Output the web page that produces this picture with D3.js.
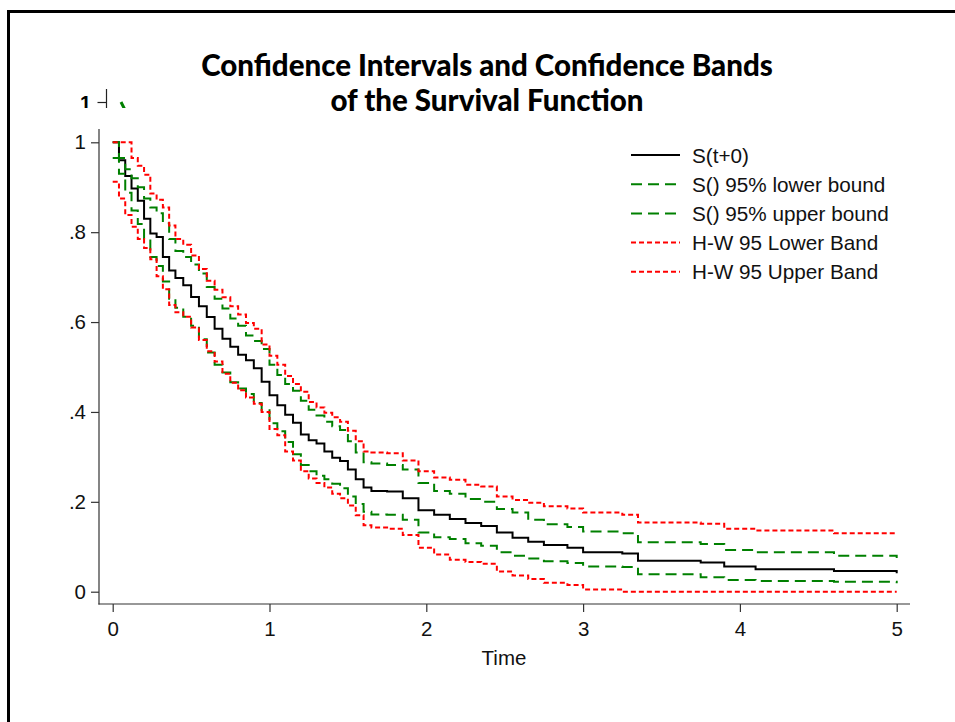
<!DOCTYPE html>
<html lang="en">
<head>
    <meta charset="utf-8">
    <title>Survival CI and bands</title>
    <script type="text/javascript" src="https://cdn.jsdelivr.net/npm/d3@7/dist/d3.min.js"></script>
    <style>
        body { margin: 0; background: #fff; }
        text { font-family: "Liberation Sans", Arial, sans-serif; }
        .title { font-family: Lato, "Open Sans", sans-serif; font-weight: 900; }
    </style>
</head>
<body>
<svg id="chart" width="955" height="722"></svg>

<script type="text/javascript">
    var time = [0,0.04,0.08,0.12,0.16,0.2,0.24,0.28,0.32,0.36,0.4,
        0.45,0.5,0.55,0.6,0.65,0.7,0.75,0.8,0.85,0.9,0.95,1.0,1.05,1.1,1.15,1.2,1.25,1.3,1.35,1.4,1.45,1.5,1.55,1.6,1.65,
        1.75,1.85,1.95,2.05,2.15,2.25,2.35,2.45,2.55,2.65,2.75,
        2.9,3.0,3.25,3.35,3.75,3.9,4.1,4.6,5.0];

    var survival = [1.0,0.96,0.925,0.897,0.87,0.83,0.797,0.789,0.745,0.715,0.698,
        0.682,0.656,0.635,0.611,0.585,0.563,0.545,0.527,0.515,0.497,0.467,0.437,0.415,0.394,0.376,0.35,0.337,0.330,0.312,0.298,0.291,0.272,0.25,0.232,0.224,
        0.223,0.208,0.181,0.171,0.162,0.153,0.146,0.132,0.120,0.111,0.104,
        0.098,0.088,0.085,0.069,0.065,0.056,0.050,0.046,0.041];

    var ciLower = [0.965,0.93,0.888,0.848,0.818,0.785,0.745,0.725,0.69,0.652,0.632,
        0.612,0.592,0.562,0.532,0.505,0.488,0.466,0.452,0.440,0.42,0.404,0.375,0.357,0.333,0.306,0.282,0.268,0.258,0.250,0.240,0.230,0.212,0.195,0.178,0.172,
        0.171,0.160,0.132,0.121,0.117,0.108,0.102,0.088,0.080,0.074,0.068,
        0.064,0.056,0.055,0.039,0.032,0.026,0.024,0.022,0.019];

    var ciUpper = [1.0,0.965,0.94,0.92,0.90,0.875,0.855,0.842,0.82,0.785,0.758,
        0.745,0.728,0.708,0.678,0.652,0.630,0.608,0.592,0.570,0.558,0.540,0.505,0.482,0.462,0.447,0.425,0.405,0.392,0.378,0.368,0.360,0.335,0.31,0.288,0.285,
        0.282,0.272,0.242,0.224,0.218,0.206,0.200,0.184,0.176,0.160,0.150,
        0.144,0.134,0.130,0.110,0.106,0.093,0.088,0.080,0.075];

    var bandLower = [0.912,0.875,0.838,0.812,0.785,0.765,0.740,0.702,0.673,0.638,0.622,
        0.612,0.588,0.560,0.535,0.512,0.485,0.465,0.448,0.432,0.418,0.400,0.362,0.348,0.312,0.292,0.268,0.252,0.242,0.232,0.218,0.208,0.192,0.170,0.148,0.143,
        0.140,0.126,0.098,0.083,0.071,0.066,0.062,0.045,0.036,0.028,0.020,
        0.015,0.005,0.0,0.0,0.0,0.0,0.0,0.0,0.0];

    var bandUpper = [1.0,1.0,1.0,0.965,0.948,0.928,0.886,0.872,0.855,0.815,0.785,
        0.772,0.748,0.718,0.692,0.672,0.655,0.635,0.617,0.598,0.585,0.550,0.525,0.505,0.480,0.462,0.445,0.422,0.410,0.398,0.388,0.378,0.358,0.335,0.312,0.310,
        0.308,0.292,0.268,0.254,0.249,0.238,0.234,0.212,0.204,0.198,0.190,
        0.185,0.176,0.171,0.154,0.151,0.140,0.136,0.130,0.128];

    var xTicks = [0, 1, 2, 3, 4, 5];
    var xTickLabels = ["0", "1", "2", "3", "4", "5"];
    var yTicks = [0, 0.2, 0.4, 0.6, 0.8, 1];
    var yTickLabels = ["0", ".2", ".4", ".6", ".8", "1"];
    var legendLabels = ["S(t+0)", "S() 95% lower bound", "S() 95% upper bound", "H-W 95 Lower Band", "H-W 95 Upper Band"];
    var titleLines = ["Confidence Intervals and Confidence Bands", "of the Survival Function"];

    // series styles, same order as the legend
    var styles = [
        {color: "#000000", dash: null},
        {color: "#008000", dash: "11,6"},
        {color: "#008000", dash: "11,6"},
        {color: "#ff0000", dash: "5,3"},
        {color: "#ff0000", dash: "5,3"}
    ];
    var seriesValues = [survival, ciLower, ciUpper, bandLower, bandUpper];

    var svg = d3.select("#chart");

    // outer frame (only left and top edges show)
    svg.append("rect")
        .attr("x", 8.5).attr("y", 11.5)
        .attr("width", 1000).attr("height", 1000)
        .attr("fill", "none").attr("stroke", "#000").attr("stroke-width", 3);

    var x = d3.scaleLinear().domain([0, 5]).range([112.7, 896.7]);
    var y = d3.scaleLinear().domain([0, 1]).range([591.7, 142.3]);

    // stray bit of an older copy of the axis peeking out under the title
    svg.append("clipPath").attr("id", "peek")
        .append("rect").attr("x", 70).attr("y", 85).attr("width", 70).attr("height", 23);
    var peek = svg.append("g").attr("clip-path", "url(#peek)");
    peek.append("text").attr("x", 91).attr("y", 110).attr("text-anchor", "end")
        .attr("font-size", 20).attr("font-weight", "bold").text("1");
    peek.append("line").attr("x1", 97.5).attr("x2", 106.5).attr("y1", 102.5).attr("y2", 102.5)
        .attr("stroke", "#222").attr("stroke-width", 1.2);
    peek.append("line").attr("x1", 106.5).attr("x2", 106.5).attr("y1", 89).attr("y2", 130)
        .attr("stroke", "#222").attr("stroke-width", 1.2);
    peek.append("line").attr("x1", 121).attr("x2", 125).attr("y1", 102).attr("y2", 110)
        .attr("stroke", "#008000").attr("stroke-width", 3);

    // title
    titleLines.forEach(function(t, i) {
        svg.append("text").attr("class", "title")
            .attr("x", 487).attr("y", 76 + i * 35)
            .attr("text-anchor", "middle")
            .attr("font-size", 29.5)
            .text(t);
    });

    // axes
    var yAxis = d3.axisLeft(y)
        .tickValues(yTicks)
        .tickFormat(function(d, i) { return yTickLabels[i]; })
        .tickSize(8).tickPadding(5);
    var gy = svg.append("g").attr("transform", "translate(99,0)").call(yAxis);
    gy.select(".domain").remove();
    gy.selectAll("line").attr("stroke", "#333").attr("stroke-width", 1.2);
    gy.selectAll("text").attr("font-size", 20.5).attr("fill", "#111")
        .attr("font-family", "'Liberation Sans', Arial, sans-serif");

    var xAxis = d3.axisBottom(x)
        .tickValues(xTicks)
        .tickFormat(function(d, i) { return xTickLabels[i]; })
        .tickSize(8).tickPadding(9);
    var gx = svg.append("g").attr("transform", "translate(0,604)").call(xAxis);
    gx.select(".domain").remove();
    gx.selectAll("line").attr("stroke", "#333").attr("stroke-width", 1.2);
    gx.selectAll("text").attr("font-size", 20.5).attr("fill", "#111")
        .attr("font-family", "'Liberation Sans', Arial, sans-serif");

    svg.append("line").attr("x1", 99).attr("x2", 99).attr("y1", 129).attr("y2", 604.6)
        .attr("stroke", "#333").attr("stroke-width", 1.2);
    svg.append("line").attr("x1", 98.4).attr("x2", 910).attr("y1", 604).attr("y2", 604)
        .attr("stroke", "#333").attr("stroke-width", 1.2);

    svg.append("text").attr("x", 504).attr("y", 665)
        .attr("text-anchor", "middle").attr("font-size", 20.5).attr("fill", "#111")
        .text("Time");

    // curves
    var line = d3.line()
        .x(function(d) { return x(d[0]); })
        .y(function(d) { return y(d[1]); })
        .curve(d3.curveStepAfter);

    seriesValues.forEach(function(vals, k) {
        var pts = time.map(function(t, i) { return [t, vals[i]]; });
        svg.append("path")
            .datum(pts)
            .attr("d", line)
            .attr("fill", "none")
            .attr("stroke", styles[k].color)
            .attr("stroke-width", 2)
            .attr("stroke-dasharray", styles[k].dash);
    });

    // legend
    var legend = svg.append("g").attr("transform", "translate(631,155)");
    legendLabels.forEach(function(lbl, i) {
        var row = legend.append("g").attr("transform", "translate(0," + (i * 29.2) + ")");
        row.append("line").attr("x1", 0).attr("x2", 49).attr("y1", 0).attr("y2", 0)
            .attr("stroke", styles[i].color).attr("stroke-width", 2)
            .attr("stroke-dasharray", styles[i].dash);
        row.append("text").attr("x", 61).attr("y", 7.5)
            .attr("font-size", 20.7).attr("fill", "#111")
            .text(lbl);
    });
</script>
</body>
</html>
